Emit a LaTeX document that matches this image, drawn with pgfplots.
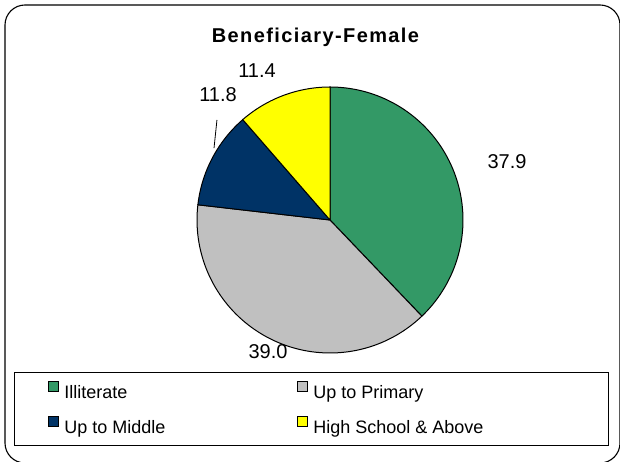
\documentclass[border=0pt]{standalone}
\usepackage{pgfplots}
\pgfplotsset{compat=1.18}
\usepackage{fontspec}
\setmainfont{Liberation Sans}
\definecolor{cIll}{RGB}{51,153,102}
\definecolor{cPri}{RGB}{192,192,192}
\definecolor{cMid}{RGB}{0,51,102}
\definecolor{cHig}{RGB}{255,255,0}
\newcommand{\lent}[2]{\makebox[#1][l]{\rule[-10.5pt]{0pt}{23pt}#2}}
\begin{document}
\begin{tikzpicture}[x=1pt,y=1pt]
\useasboundingbox (0,0) rectangle (620,462);
\draw[line width=1.1pt, rounded corners=20pt] (5,-1) rectangle (620,457);
\node[font=\fontsize{20}{24}\selectfont\bfseries\addfontfeatures{LetterSpace=7}] at (315.5,425) {Beneficiary-Female};
\def\vA{37.9}\def\vB{39.0}\def\vC{11.8}\def\vD{11.4}
\pgfmathsetmacro\tot{\vA+\vB+\vC+\vD}
\pgfmathsetmacro\aA{90}
\pgfmathsetmacro\aB{\aA-360*\vA/\tot}
\pgfmathsetmacro\aC{\aB-360*\vB/\tot}
\pgfmathsetmacro\aD{\aC-360*\vC/\tot}
\pgfmathsetmacro\aE{\aD-360*\vD/\tot}
\begin{axis}[at={(330pt,242pt)}, anchor=center, scale only axis,
  width=266pt, height=266pt, xmin=-1, xmax=1, ymin=-1, ymax=1,
  hide axis, clip=false,
  legend columns=2,
  legend image code/.code={\path[draw=none,fill=none] (0pt,-10.5pt) rectangle (50pt,12.5pt);
     \draw[#1, line width=0.8pt] (34pt,1pt) rectangle (44pt,11pt);},
  legend style={at={(axis description cs:-0.688,-0.0714)}, anchor=north west,
     draw=black, line width=0.8pt, inner xsep=0pt, inner ysep=7.5pt, row sep=12pt, column sep=0pt,
     nodes={inner sep=0pt}, cells={anchor=west},
     font=\fontsize{18}{22}\selectfont},
  ]
\addplot[fill=cIll, draw=black, line width=1pt, domain=\aB:\aA, samples=80, variable=\t]
  ({cos(\t)},{sin(\t)}) -- (axis cs:0,0) -- cycle;
\addlegendentry{\lent{199pt}{Illiterate}}
\addplot[fill=cPri, draw=black, line width=1pt, domain=\aC:\aB, samples=80, variable=\t]
  ({cos(\t)},{sin(\t)}) -- (axis cs:0,0) -- cycle;
\addlegendentry{\lent{295pt}{Up to Primary}}
\addplot[fill=cMid, draw=black, line width=1pt, domain=\aD:\aC, samples=40, variable=\t]
  ({cos(\t)},{sin(\t)}) -- (axis cs:0,0) -- cycle;
\addlegendentry{\lent{199pt}{Up to Middle}}
\addplot[fill=cHig, draw=black, line width=1pt, domain=\aE:\aD, samples=40, variable=\t]
  ({cos(\t)},{sin(\t)}) -- (axis cs:0,0) -- cycle;
\addlegendentry{\lent{295pt}{High School \& Above}}
\draw[line width=0.8pt] (axis cs:-0.850,0.752) -- (axis cs:-0.872,0.541);
\begin{scope}[font=\fontsize{20}{24}\selectfont]
\node at (axis cs:1.331,0.436) {37.9};
\node at (axis cs:-0.466,-0.993) {39.0};
\node at (axis cs:-0.842,0.940) {11.8};
\node at (axis cs:-0.549,1.120) {11.4};
\end{scope}
\end{axis}
\end{tikzpicture}
\end{document}
